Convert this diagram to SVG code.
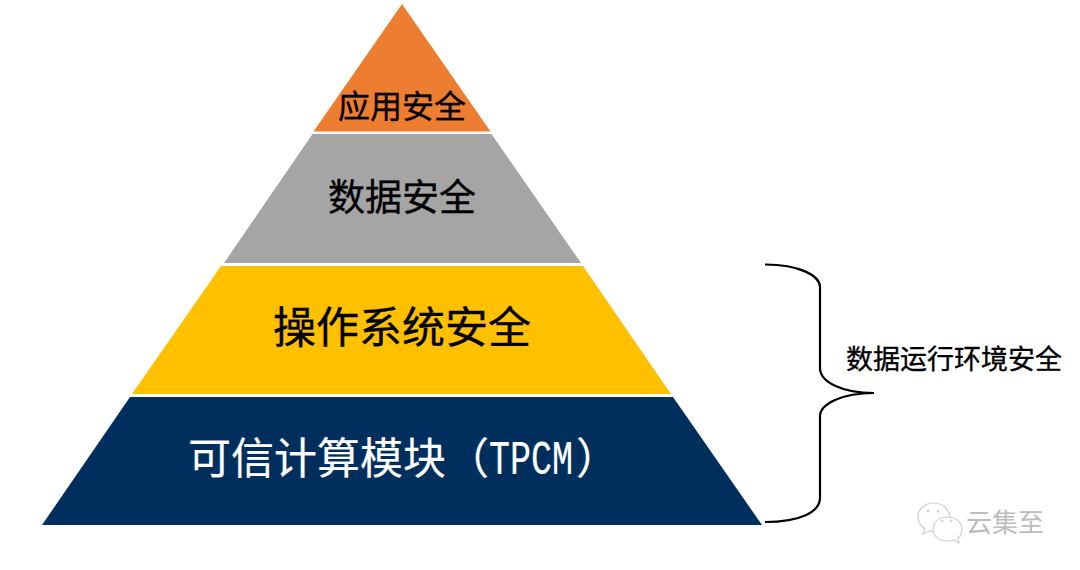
<svg xmlns="http://www.w3.org/2000/svg" width="1080" height="570" viewBox="0 0 1080 570">
<style>
text{font-family:"Noto Sans CJK SC","Liberation Sans",sans-serif;text-anchor:middle;fill:#000;font-weight:400;stroke:#000;stroke-width:.35}
.w{fill:#fff;stroke:#fff;stroke-width:.2;text-anchor:start}
.m{font-family:"Liberation Mono",monospace;font-size:49px}
.wm{fill:#bdbdbd;stroke:none;font-size:26px}
.ic{fill:#fff;stroke:#cfcfcf;stroke-width:1.2}
.dot{fill:none;stroke:#c8c8c8;stroke-width:1}
</style>
<rect width="1080" height="570" fill="#fff"/>
<g id="layer-app"><polygon points="402,4 490.500,131.500 313.500,131.500" fill="#ed7d31"/><text x="402" y="118" font-size="32">应用安全</text></g>
<g id="layer-data"><polygon points="312.500,134 491.500,134 581,263 224,263" fill="#a5a5a5"/><text x="402" y="211" font-size="37">数据安全</text></g>
<g id="layer-os"><polygon points="221,266 583,266 671,394 132,394" fill="#ffc000"/><text x="402" y="343" font-size="43">操作系统安全</text></g>
<g id="layer-tpcm"><polygon points="130,397 673,397 762,525 42,525" fill="#002f5d"/><text class="w" x="188" y="474" font-size="43">可信计算模块（<tspan class="m" textLength="84" lengthAdjust="spacingAndGlyphs">TPCM</tspan><tspan dx="3">）</tspan></text></g>
<g id="connectors"><path id="brace" d="M765,264.500C800,264.500 820,276 820,287L820,368C820,382 842,393 874,393C842,393 820,404 820,416L820,498C820,512 800,522 765,522" fill="none" stroke="#000" stroke-width="2.200"/></g>
<g id="brace-label"><text x="954" y="369" font-size="27">数据运行环境安全</text></g>
<g id="watermark">
<path class="ic" d="M934,503C925,503 918,509 918,517C918,522 921,526 925,529L923,534L930,531C933,532 937,532 940,531L950,516C948,508 942,503 934,503Z"/>
<path class="ic" d="M947,517C939,517 933,522 933,529C933,536 939,541 947,541C950,541 952,541 954,540L959,543L958,538C961,536 962,532 962,529C962,522 955,517 947,517Z"/>
<circle class="dot" cx="928" cy="511" r="1"/><circle class="dot" cx="938" cy="511" r="1"/><circle class="dot" cx="942" cy="521" r="1"/><circle class="dot" cx="951" cy="521" r="1"/>
<text class="wm" x="1005" y="532">云集至</text>
</g>
</svg>
